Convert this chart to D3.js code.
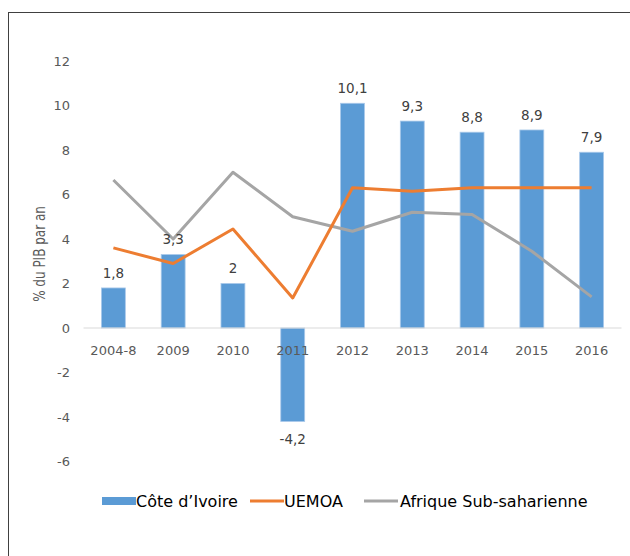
<!DOCTYPE html>
<html>
<head>
<meta charset="utf-8">
<script src="https://cdn.jsdelivr.net/npm/d3@7"></script>
<style>
  body { margin: 0; background: #fff; }
  svg { display: block; font-family: "DejaVu Sans", Verdana, sans-serif; }
</style>
</head>
<body>
<svg id="viz" width="630" height="556"></svg>
<script>
var years = ["2004-8", "2009", "2010", "2011", "2012", "2013", "2014", "2015", "2016"];
var coteIvoire = [1.8, 3.3, 2, -4.2, 10.1, 9.3, 8.8, 8.9, 7.9];
var uemoa = [3.6, 2.9, 4.45, 1.35, 6.3, 6.15, 6.3, 6.3, 6.3];
var afrique = [6.65, 4.0, 7.0, 5.0, 4.35, 5.2, 5.1, 3.45, 1.4];
var yTicks = [-6, -4, -2, 0, 2, 4, 6, 8, 10, 12];

var seriesNames = ["Côte d’Ivoire", "UEMOA", "Afrique Sub-saharienne"];
var colors = ["#5b9bd5", "#ed7d31", "#a5a5a5"];

var svg = d3.select("#viz");

// outer frame (extends past right and bottom edges)
svg.append("rect")
    .attr("x", 8.5).attr("y", 12.5)
    .attr("width", 700).attr("height", 700)
    .attr("fill", "none")
    .attr("stroke", "#404040")
    .attr("stroke-width", 1);

var x = d3.scaleBand().domain(years).range([83.5, 621.5]).padding(0);
var y = d3.scaleLinear().domain([-6, 12]).range([461.5, 61]);
var barW = x.bandwidth() * 0.4;

// y tick labels (no axis line)
svg.append("g").selectAll("text")
    .data(yTicks)
    .enter().append("text")
    .attr("x", 70)
    .attr("y", function(d) { return y(d); })
    .attr("dy", "0.35em")
    .attr("text-anchor", "end")
    .attr("font-size", 13)
    .attr("fill", "#595959")
    .text(function(d) { return d; });

// y title (condensed look of the original)
svg.append("text")
    .attr("transform", "translate(40,254) rotate(-90) scale(0.8,1)")
    .attr("text-anchor", "middle")
    .attr("dy", "0.35em")
    .attr("font-size", 15)
    .attr("fill", "#595959")
    .text("% du PIB par an");

// bars
svg.append("g").selectAll("rect")
    .data(coteIvoire)
    .enter().append("rect")
    .attr("x", function(d, i) { return x(years[i]) + x.bandwidth() / 2 - barW / 2; })
    .attr("y", function(d) { return y(Math.max(0, d)); })
    .attr("width", barW)
    .attr("height", function(d) { return Math.abs(y(d) - y(0)); })
    .attr("fill", colors[0])
    .attr("stroke", "#a9c9ea")
    .attr("stroke-width", 0.8);

// zero line
svg.append("line")
    .attr("x1", 83.5).attr("x2", 621.5)
    .attr("y1", y(0)).attr("y2", y(0))
    .attr("stroke", "#d9d9d9")
    .attr("stroke-width", 1);

// x labels
svg.append("g").selectAll("text")
    .data(years)
    .enter().append("text")
    .attr("x", function(d) { return x(d) + x.bandwidth() / 2; })
    .attr("y", y(0) + 22)
    .attr("dy", "0.35em")
    .attr("text-anchor", "middle")
    .attr("font-size", 13)
    .attr("fill", "#595959")
    .text(function(d) { return d; });

// lines
var line = d3.line()
    .x(function(d, i) { return x(years[i]) + x.bandwidth() / 2; })
    .y(function(d) { return y(d); });

[afrique, uemoa].forEach(function(s) {
    svg.append("path")
        .datum(s)
        .attr("d", line)
        .attr("fill", "none")
        .attr("stroke", s === uemoa ? colors[1] : colors[2])
        .attr("stroke-width", 3)
        .attr("stroke-linejoin", "round");
});

// data labels
svg.append("g").selectAll("text")
    .data(coteIvoire)
    .enter().append("text")
    .attr("x", function(d, i) { return x(years[i]) + x.bandwidth() / 2; })
    .attr("y", function(d) { return d >= 0 ? y(d) - 15 : y(d) + 18; })
    .attr("dy", "0.35em")
    .attr("text-anchor", "middle")
    .attr("font-size", 13.5)
    .attr("fill", "#404040")
    .text(function(d) { return String(d).replace(".", ","); });

// legend
var legend = [
    {name: seriesNames[0], color: colors[0], sx: 102, tx: 136, bar: true},
    {name: seriesNames[1], color: colors[1], sx: 250, tx: 284, bar: false},
    {name: seriesNames[2], color: colors[2], sx: 364, tx: 400, bar: false}
];
var ly = 501;
legend.forEach(function(l) {
    if (l.bar) {
        svg.append("rect").attr("x", l.sx).attr("y", ly - 4).attr("width", 34).attr("height", 8).attr("fill", l.color);
    } else {
        svg.append("line").attr("x1", l.sx).attr("x2", l.sx + 34).attr("y1", ly).attr("y2", ly)
            .attr("stroke", l.color).attr("stroke-width", 3);
    }
    svg.append("text")
        .attr("x", l.tx).attr("y", ly)
        .attr("dy", "0.35em")
        .attr("font-size", 16)
        .attr("fill", "#000")
        .text(l.name);
});
</script>
</body>
</html>
